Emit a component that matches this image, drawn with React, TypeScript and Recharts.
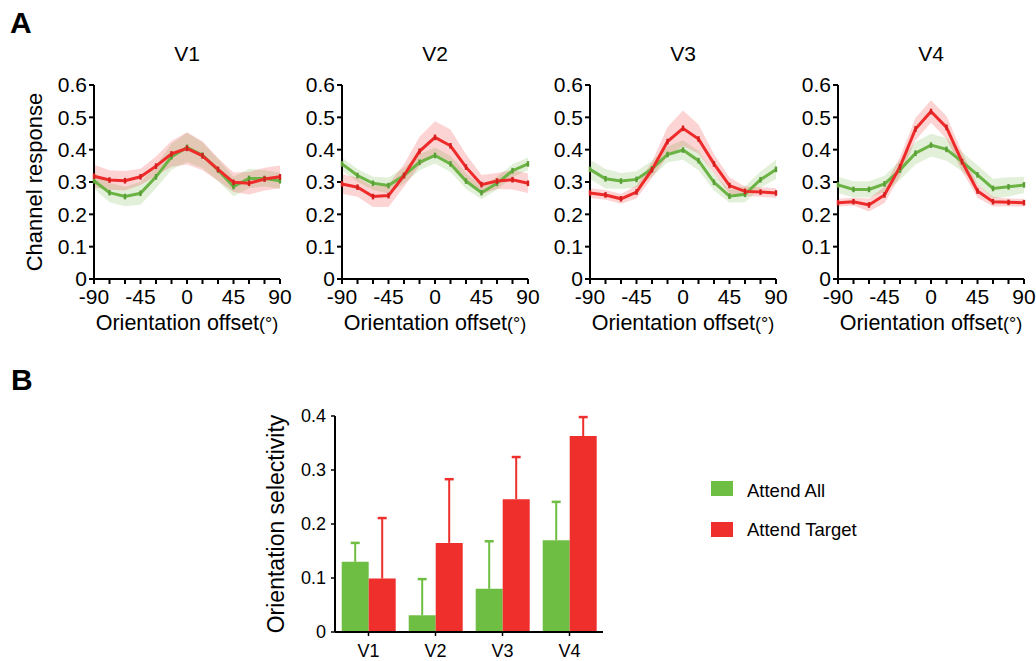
import React from 'react';
import { ComposedChart, Line, Area, XAxis, YAxis, BarChart, Bar } from 'recharts';

const offsets = [-90, -75, -60, -45, -30, -15, 0, 15, 30, 45, 60, 75, 90];
const xTicks = offsets;
const yTicksLine = [0, 0.1, 0.2, 0.3, 0.4, 0.5, 0.6];

const v1All = [0.304, 0.267, 0.255, 0.265, 0.316, 0.378, 0.407, 0.383, 0.337, 0.286, 0.311, 0.311, 0.304];
const v1Target = [0.318, 0.306, 0.304, 0.316, 0.349, 0.387, 0.404, 0.381, 0.339, 0.299, 0.296, 0.309, 0.316];
const v1AllSem = [0.025, 0.03, 0.03, 0.035, 0.035, 0.04, 0.045, 0.04, 0.035, 0.03, 0.03, 0.025, 0.025];
const v1TargetSem = [0.035, 0.03, 0.03, 0.025, 0.03, 0.04, 0.05, 0.045, 0.035, 0.03, 0.035, 0.035, 0.035];

const v2All = [0.356, 0.32, 0.296, 0.289, 0.32, 0.361, 0.382, 0.356, 0.303, 0.267, 0.296, 0.335, 0.356];
const v2Target = [0.294, 0.284, 0.255, 0.258, 0.32, 0.395, 0.438, 0.412, 0.346, 0.292, 0.303, 0.307, 0.296];
const v2AllSem = [0.02, 0.02, 0.02, 0.025, 0.025, 0.025, 0.025, 0.025, 0.025, 0.02, 0.02, 0.02, 0.02];
const v2TargetSem = [0.03, 0.03, 0.032, 0.035, 0.035, 0.045, 0.05, 0.05, 0.04, 0.03, 0.025, 0.03, 0.03];

const v3All = [0.339, 0.31, 0.303, 0.308, 0.341, 0.385, 0.399, 0.366, 0.299, 0.256, 0.262, 0.307, 0.339];
const v3Target = [0.266, 0.26, 0.248, 0.269, 0.338, 0.425, 0.466, 0.433, 0.356, 0.289, 0.271, 0.269, 0.266];
const v3AllSem = [0.03, 0.03, 0.025, 0.025, 0.025, 0.025, 0.03, 0.03, 0.025, 0.02, 0.025, 0.025, 0.03];
const v3TargetSem = [0.015, 0.015, 0.015, 0.02, 0.025, 0.045, 0.055, 0.045, 0.03, 0.025, 0.015, 0.015, 0.015];

const v4All = [0.291, 0.277, 0.277, 0.294, 0.337, 0.389, 0.414, 0.401, 0.363, 0.322, 0.28, 0.285, 0.291];
const v4Target = [0.236, 0.239, 0.229, 0.26, 0.347, 0.464, 0.518, 0.469, 0.363, 0.272, 0.239, 0.237, 0.236];
const v4AllSem = [0.025, 0.025, 0.025, 0.025, 0.03, 0.035, 0.035, 0.035, 0.03, 0.03, 0.03, 0.03, 0.025];
const v4TargetSem = [0.012, 0.012, 0.02, 0.025, 0.03, 0.035, 0.035, 0.035, 0.03, 0.02, 0.015, 0.012, 0.012];

const areas = ['V1', 'V2', 'V3', 'V4'];
const selAll = [0.13, 0.031, 0.08, 0.17];
const selAllErr = [0.035, 0.067, 0.088, 0.071];
const selTarget = [0.099, 0.165, 0.246, 0.363];
const selTargetErr = [0.112, 0.118, 0.078, 0.035];
const yTicksBar = [0, 0.1, 0.2, 0.3, 0.4];

const GREEN = '#6bb344';
const RED = '#ee2a2a';
const BAR_GREEN = '#6fbe44';
const BAR_RED = '#ee2f2b';
const FONT = '"Liberation Sans", Arial, Helvetica, sans-serif';

const panels = [
  { title: 'V1', all: v1All, target: v1Target, allSem: v1AllSem, targetSem: v1TargetSem },
  { title: 'V2', all: v2All, target: v2Target, allSem: v2AllSem, targetSem: v2TargetSem },
  { title: 'V3', all: v3All, target: v3Target, allSem: v3AllSem, targetSem: v3TargetSem },
  { title: 'V4', all: v4All, target: v4Target, allSem: v4AllSem, targetSem: v4TargetSem },
];

const PLOT_LEFTS = [94, 342, 590, 838];
const PLOT_W = 186;
const Y_AXIS_W = 56;

const makeDot = (color: string) => (p: any) => (
  <rect key={`d-${p.index}`} x={p.cx - 1.2} y={p.cy - 2.8} width={2.4} height={5.6} fill={color} />
);

function LinePanel({ p, left }: { p: any; left: number }) {
  const data = offsets.map((o, i) => ({
    o,
    all: p.all[i],
    target: p.target[i],
    allBand: [p.all[i] - p.allSem[i], p.all[i] + p.allSem[i]],
    targetBand: [p.target[i] - p.targetSem[i], p.target[i] + p.targetSem[i]],
  }));
  const tickStyle = { fill: '#000', fontSize: 21, fontFamily: FONT };
  return (
    <div style={{ position: 'absolute', left: left - Y_AXIS_W, top: 65 }}>
      <ComposedChart width={Y_AXIS_W + PLOT_W + 16} height={250} data={data}
        margin={{ top: 20, right: 16, bottom: 0, left: 0 }}>
        <XAxis dataKey="o" type="number" domain={[-90, 90]} ticks={xTicks}
          tickFormatter={(v: number) => (v % 45 === 0 ? String(v) : '')}
          height={36} tick={tickStyle} tickSize={5} tickMargin={5}
          axisLine={{ stroke: '#000', strokeWidth: 2 }} tickLine={{ stroke: '#000', strokeWidth: 2 }}
          interval={0} />
        <YAxis type="number" domain={[0, 0.6]} ticks={yTicksLine} width={Y_AXIS_W}
          tickFormatter={(v: number) => (v === 0 ? '0' : v.toFixed(1))}
          tick={tickStyle} tickSize={5} tickMargin={2} interval={0}
          axisLine={{ stroke: '#000', strokeWidth: 2 }} tickLine={{ stroke: '#000', strokeWidth: 2 }} />
        <Area dataKey="allBand" type="linear" stroke="none" fill="rgba(110,180,70,0.2)" fillOpacity={1} isAnimationActive={false} activeDot={false} />
        <Line dataKey="all" type="linear" stroke={GREEN} strokeWidth={3} dot={makeDot('#5a9e38')} activeDot={false} isAnimationActive={false} />
        <Area dataKey="targetBand" type="linear" stroke="none" fill="rgba(238,42,42,0.2)" fillOpacity={1} isAnimationActive={false} activeDot={false} />
        <Line dataKey="target" type="linear" stroke={RED} strokeWidth={3} dot={makeDot('#d61f1f')} activeDot={false} isAnimationActive={false} />
      </ComposedChart>
    </div>
  );
}

const makeErr = (color: string) => (props: any) => {
  const { x, y, width, height } = props;
  const cx = x + width / 2;
  return (
    <g>
      <line x1={cx} x2={cx} y1={y + height} y2={y} stroke={color} strokeWidth={2} />
      <line x1={cx - 4.5} x2={cx + 4.5} y1={y} y2={y} stroke={color} strokeWidth={2.5} />
    </g>
  );
};

function SelectivityChart() {
  const data = areas.map((a, i) => ({
    a,
    all: selAll[i],
    allErr: selAllErr[i],
    target: selTarget[i],
    targetErr: selTargetErr[i],
  }));
  const tickStyle = { fill: '#000', fontSize: 18, fontFamily: FONT };
  return (
    <div style={{ position: 'absolute', left: 335 - 60, top: 395 }}>
      <BarChart width={60 + 268} height={266} data={data} barGap={0} barCategoryGap="10%"
        margin={{ top: 21, right: 0, bottom: 0, left: 0 }}>
        <XAxis dataKey="a" height={29} tick={tickStyle} tickSize={4} tickMargin={8}
          axisLine={{ stroke: '#000', strokeWidth: 2 }} tickLine={{ stroke: '#000', strokeWidth: 1.5 }} />
        <YAxis type="number" domain={[0, 0.4]} ticks={yTicksBar} width={60} interval={0}
          tickFormatter={(v: number) => (v === 0 ? '0' : v.toFixed(1))}
          tick={tickStyle} tickSize={4} tickMargin={5}
          axisLine={{ stroke: '#000', strokeWidth: 2 }} tickLine={{ stroke: '#000', strokeWidth: 1.5 }} />
        <Bar dataKey="all" stackId="g" fill={BAR_GREEN} isAnimationActive={false} />
        <Bar dataKey="allErr" stackId="g" fill="none" shape={makeErr(BAR_GREEN)} isAnimationActive={false} />
        <Bar dataKey="target" stackId="r" fill={BAR_RED} isAnimationActive={false} />
        <Bar dataKey="targetErr" stackId="r" fill="none" shape={makeErr(BAR_RED)} isAnimationActive={false} />
      </BarChart>
    </div>
  );
}

export default function App() {
  return (
    <div style={{ position: 'absolute', left: 0, top: 0, width: 1036, height: 661, background: '#fff', fontFamily: FONT }}>
      {panels.map((p, i) => (
        <LinePanel key={p.title} p={p} left={PLOT_LEFTS[i]} />
      ))}
      <SelectivityChart />
      <svg width={1036} height={661} style={{ position: 'absolute', left: 0, top: 0, pointerEvents: 'none' }}
        fontFamily={FONT}>
        <text x={10} y={33} fontSize={30} fontWeight="bold">A</text>
        <text x={11} y={390} fontSize={30} fontWeight="bold">B</text>
        {panels.map((p, i) => (
          <text key={'t' + i} x={PLOT_LEFTS[i] + PLOT_W / 2} y={61} fontSize={21} textAnchor="middle">{p.title}</text>
        ))}
        {panels.map((p, i) => (
          <text key={'x' + i} x={PLOT_LEFTS[i] + PLOT_W / 2} y={330} fontSize={21.5} textAnchor="middle">
            Orientation offset<tspan fontSize={18}>(°)</tspan>
          </text>
        ))}
        <text transform="translate(42,182) rotate(-90)" fontSize={22} textAnchor="middle">Channel response</text>
        <text transform="translate(284,524) rotate(-90)" fontSize={23} textAnchor="middle">Orientation selectivity</text>
        <rect x={711} y={481} width={22} height={15} fill={BAR_GREEN} />
        <text x={747} y={497} fontSize={18.5}>Attend All</text>
        <rect x={711} y={522} width={22} height={15} fill={BAR_RED} />
        <text x={747} y={536} fontSize={18.5}>Attend Target</text>
      </svg>
    </div>
  );
}
